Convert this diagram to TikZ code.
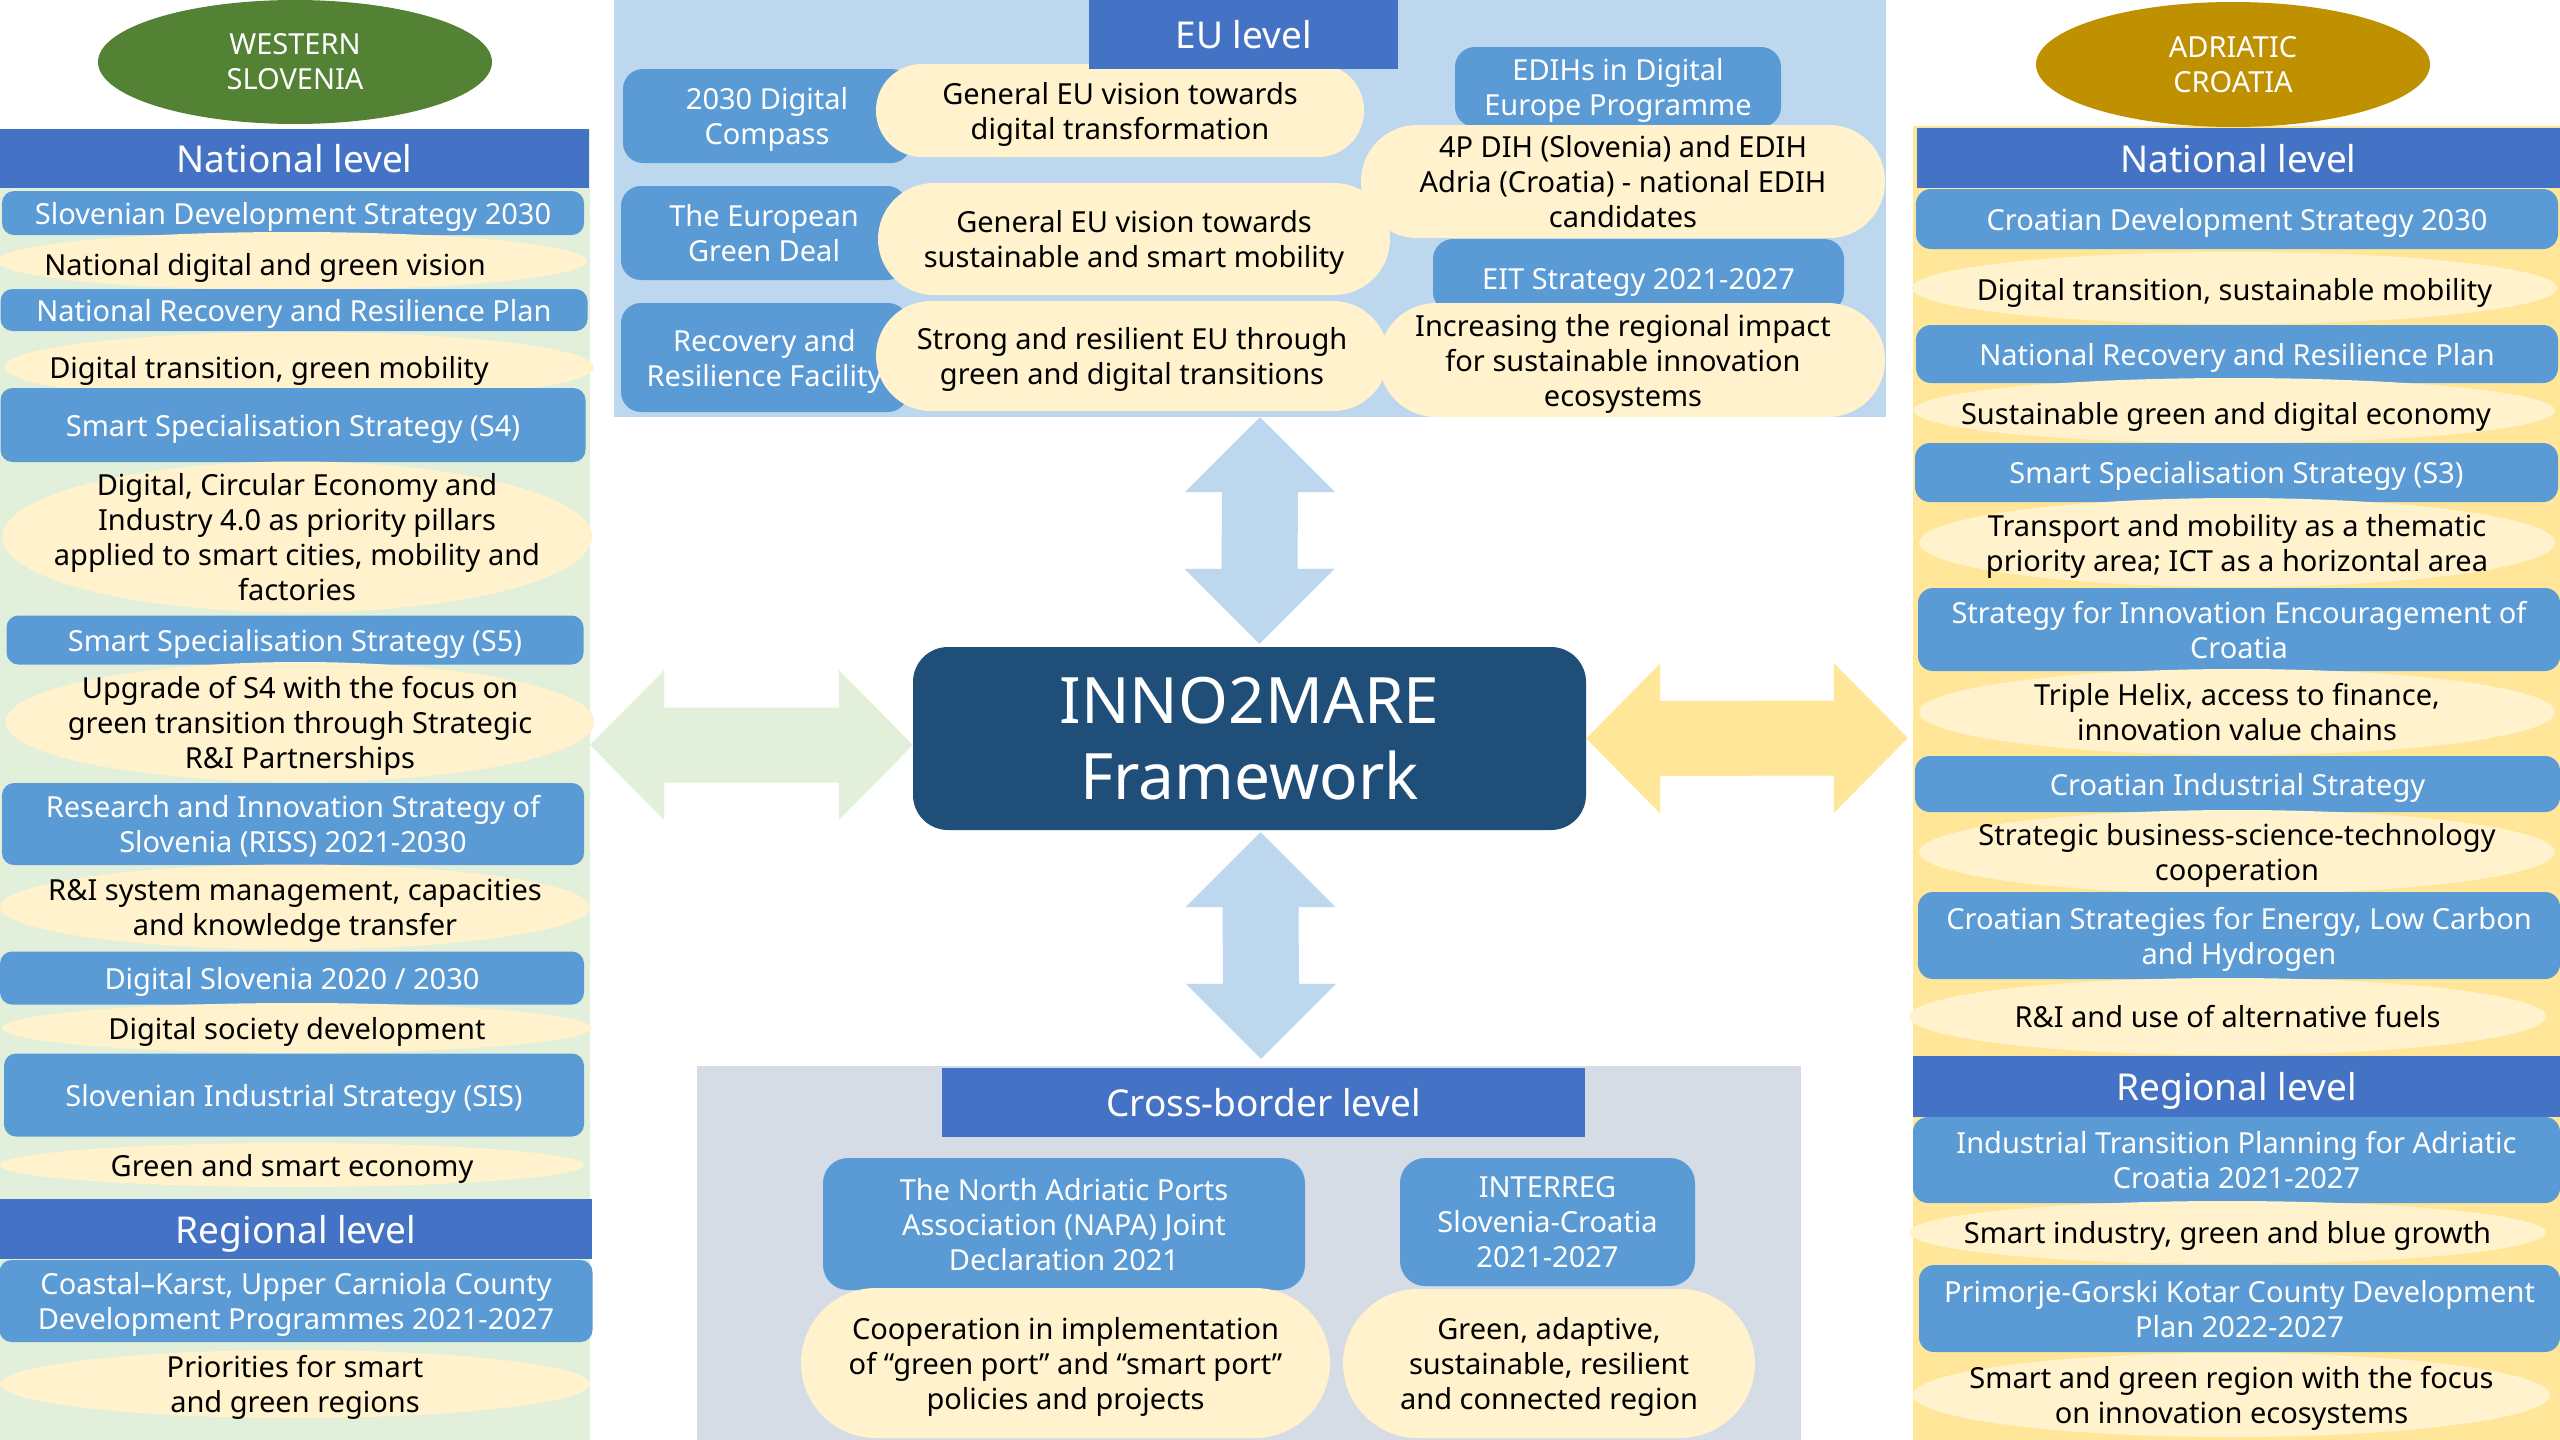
\documentclass[tikz,border=0pt]{standalone}
\usepackage{fontspec}
\setmainfont{Noto Sans}
\usetikzlibrary{shapes.geometric,calc}
\definecolor{hdrblue}{HTML}{4472C4}
\definecolor{boxblue}{HTML}{5B9BD5}
\definecolor{cream}{HTML}{FFF2CC}
\definecolor{greenbg}{HTML}{E2EFDA}
\definecolor{yellowbg}{HTML}{FFE699}
\definecolor{eubg}{HTML}{BDD7EE}
\definecolor{cbbg}{HTML}{D6DCE5}
\definecolor{ctrblue}{HTML}{1F4E79}
\definecolor{westgreen}{HTML}{548235}
\definecolor{adrgold}{HTML}{BF9000}
\newcommand{\myfbody}{\fontsize{29}{35}\selectfont}
\newcommand{\myfhdr}{\fontsize{37}{44}\selectfont}
\newcommand{\myfbig}{\fontsize{64}{76}\selectfont}
\newcommand{\myvarrow}[3]{\fill[#1] (#2) -- ($(#2)+(75,75)$) -- ($(#2)+(38,75)$) -- ($(#3)+(38,-75)$) -- ($(#3)+(75,-75)$) -- (#3) -- ($(#3)+(-75,-75)$) -- ($(#3)+(-38,-75)$) -- ($(#2)+(-38,75)$) -- ($(#2)+(-75,75)$) -- cycle;}
\newcommand{\myharrow}[3]{\fill[#1] (#2) -- ($(#2)+(74,-75)$) -- ($(#2)+(74,-37.5)$) -- ($(#3)+(-74,-37.5)$) -- ($(#3)+(-74,-75)$) -- (#3) -- ($(#3)+(-74,75)$) -- ($(#3)+(-74,37.5)$) -- ($(#2)+(74,37.5)$) -- ($(#2)+(74,75)$) -- cycle;}
\tikzset{
  panel/.style={rectangle, inner sep=0pt, fill=#1},
  hdr/.style={rectangle, fill=hdrblue, text=white, font=\myfhdr, inner sep=0pt, align=center, text depth=0pt},
  bbox/.style={rectangle, rounded corners=#1, fill=boxblue, text=white, font=\myfbody, align=center, inner sep=0pt, text depth=0pt},
  bbox/.default=12pt,
  creamE/.style={ellipse, fill=cream, inner sep=0pt},
  creamR/.style={rectangle, rounded corners=#1, fill=cream, text=black, font=\myfbody, align=center, inner sep=0pt, text depth=0pt},
  ctext/.style={text=black, font=\myfbody, align=center, inner sep=0pt, text depth=0pt},
  region/.style={ellipse, fill=#1, text=white, font=\myfbody, align=center, inner sep=0pt},
}
\begin{document}
\begin{tikzpicture}[x=1pt,y=-1pt]
\fill[white] (0,0) rectangle (2560,1440);
\useasboundingbox (0,0) rectangle (2560,1440);

% panels
\node[panel=greenbg, minimum width=590pt, minimum height=1311pt] (greenpanel) at (295,784.5) {};
\node[panel=yellowbg, minimum width=647pt, minimum height=1314pt] (yellowpanel) at (2236.5,783) {};
\node[panel=eubg, minimum width=1272pt, minimum height=417pt] (eupanel) at (1250,208.5) {};
\node[panel=cbbg, minimum width=1104pt, minimum height=374pt] (cbpanel) at (1249,1253) {};

% centre
\node[rectangle, rounded corners=35pt, fill=ctrblue, text=white, font=\myfbig, align=center, inner sep=0pt, minimum width=673pt, minimum height=183pt] (ctr) at (1249.5,738.5) {INNO2MARE\\Framework};

% arrows
\coordinate (aTT) at ([xshift=10pt]eupanel.south);
\coordinate (aTB) at ([xshift=10pt,yshift=3pt]ctr.north);
\coordinate (aBT) at ([xshift=11pt,yshift=-2pt]ctr.south);
\coordinate (aBB) at ([xshift=12pt,yshift=7pt]cbpanel.north);
\coordinate (aLL) at ([yshift=39.5pt]greenpanel.east);
\coordinate (aLR) at ([yshift=-6.5pt]ctr.west);
\coordinate (aRL) at (ctr.east);
\coordinate (aRR) at ([xshift=-5pt,yshift=45pt]yellowpanel.west);
\myvarrow{eubg}{aTT}{aTB}
\myvarrow{eubg}{aBT}{aBB}
\myharrow{greenbg}{aLL}{aLR}
\myharrow{yellowbg}{aRL}{aRR}

% ---------- left column ----------
\node[hdr, minimum width=589pt, minimum height=59pt] (natL) at (294.5,158.5) {National level};
\node[bbox, minimum width=582pt, minimum height=44pt] (sds) at (293,213) {Slovenian Development Strategy 2030};
\node[creamE, minimum width=590pt, minimum height=58pt] (e1) at (292,261) {};
\node[ctext] (e1t) at ($(e1)+(-27,3)$) {National digital and green vision};
\node[bbox, minimum width=587pt, minimum height=42pt] (nrrpL) at (294,310) {National Recovery and Resilience Plan};
\node[creamE, minimum width=590pt, minimum height=70pt] (e2) at (299,367) {};
\node[ctext] (e2t) at ($(e2)+(-30,0)$) {Digital transition, green mobility};
\node[bbox, minimum width=585pt, minimum height=74pt] (s4) at (293,425) {Smart Specialisation Strategy (S4)};
\node[creamE, minimum width=590pt, minimum height=151pt] (e3) at (297,537) {};
\node[ctext] (e3t) at (e3) {Digital, Circular Economy and\\Industry 4.0 as priority pillars\\applied to smart cities, mobility and\\factories};
\node[bbox, minimum width=577pt, minimum height=49pt] (s5) at (295,640) {Smart Specialisation Strategy (S5)};
\node[creamE, minimum width=589pt, minimum height=120pt] (e4) at (300,722) {};
\node[ctext] (e4t) at (e4) {Upgrade of S4 with the focus on\\green transition through Strategic\\R\&I Partnerships};
\node[bbox, minimum width=582pt, minimum height=82pt] (riss) at (293,824) {Research and Innovation Strategy of\\Slovenia (RISS) 2021-2030};
\node[creamE, minimum width=590pt, minimum height=85pt] (e5) at (295,907) {};
\node[ctext] (e5t) at (e5) {R\&I system management, capacities\\and knowledge transfer};
\node[bbox, minimum width=584pt, minimum height=53pt] (ds) at (292,978) {Digital Slovenia 2020 / 2030};
\node[creamE, minimum width=590pt, minimum height=50pt] (e6) at (297,1028) {};
\node[ctext] (e6t) at (e6) {Digital society development};
\node[bbox, minimum width=580pt, minimum height=83pt] (sis) at (294,1095) {Slovenian Industrial Strategy (SIS)};
\node[creamE, minimum width=584pt, minimum height=44pt] (e7) at (292,1165) {};
\node[ctext] (e7t) at (e7) {Green and smart economy};
\node[hdr, minimum width=592pt, minimum height=60pt] (regL) at (296,1229) {Regional level};
\node[bbox, minimum width=593pt, minimum height=82pt] (ck) at (296,1301) {Coastal–Karst, Upper Carniola County\\Development Programmes 2021-2027};
\node[creamE, minimum width=590pt, minimum height=68pt] (e8) at (295,1384) {};
\node[ctext] (e8t) at (e8) {Priorities for smart\\and green regions};

% ---------- right column ----------
\node[hdr, minimum width=643pt, minimum height=60pt] (natR) at (2238.5,158) {National level};
\node[bbox=15pt, minimum width=642pt, minimum height=60pt] (cds) at (2237,219) {Croatian Development Strategy 2030};
\node[creamE, minimum width=645pt, minimum height=72pt] (r1) at (2234.5,288) {};
\node[ctext] (r1t) at ($(r1)+(0,1.5)$) {Digital transition, sustainable mobility};
\node[bbox=15pt, minimum width=642pt, minimum height=58pt] (nrrpR) at (2237,354) {National Recovery and Resilience Plan};
\node[creamE, minimum width=642pt, minimum height=65pt] (r2) at (2234,410.5) {};
\node[ctext] (r2t) at ($(r2)+(-8,2.5)$) {Sustainable green and digital economy};
\node[bbox=15pt, minimum width=643pt, minimum height=59pt] (s3) at (2236.5,472.5) {Smart Specialisation Strategy (S3)};
\node[creamE, minimum width=636pt, minimum height=89pt] (r3) at (2237,542.5) {};
\node[ctext] (r3t) at (r3) {Transport and mobility as a thematic\\priority area; ICT as a horizontal area};
\node[bbox=15pt, minimum width=642pt, minimum height=83pt] (sie) at (2239,629.5) {Strategy for Innovation Encouragement of\\Croatia};
\node[creamE, minimum width=636pt, minimum height=86pt] (r4) at (2237,712) {};
\node[ctext] (r4t) at (r4) {Triple Helix, access to finance,\\innovation value chains};
\node[bbox=15pt, minimum width=645pt, minimum height=56pt] (cis) at (2237.5,784) {Croatian Industrial Strategy};
\node[creamE, minimum width=636pt, minimum height=84pt] (r5) at (2237,852) {};
\node[ctext] (r5t) at (r5) {Strategic business-science-technology\\cooperation};
\node[bbox=15pt, minimum width=642pt, minimum height=87pt] (cse) at (2239,935.5) {Croatian Strategies for Energy, Low Carbon\\and Hydrogen};
\node[creamE, minimum width=637pt, minimum height=77pt] (r6) at (2227.5,1016.5) {};
\node[ctext] (r6t) at (r6) {R\&I and use of alternative fuels};
\node[hdr, minimum width=647pt, minimum height=61pt] (regR) at (2236.5,1086.5) {Regional level};
\node[bbox=15pt, minimum width=647pt, minimum height=86pt] (itp) at (2236.5,1160) {Industrial Transition Planning for Adriatic\\Croatia 2021-2027};
\node[creamE, minimum width=637pt, minimum height=63pt] (r7) at (2227.5,1232.5) {};
\node[ctext] (r7t) at (r7) {Smart industry, green and blue growth};
\node[bbox=15pt, minimum width=641pt, minimum height=87pt] (pgk) at (2239.5,1308.5) {Primorje-Gorski Kotar County Development\\Plan 2022-2027};
\node[creamE, minimum width=637pt, minimum height=84pt] (r8) at (2231.5,1395) {};
\node[ctext] (r8t) at (r8) {Smart and green region with the focus\\on innovation ecosystems};

% ---------- EU level ----------
\node[bbox=20pt, minimum width=288pt, minimum height=94pt] (dc) at (767,116) {2030 Digital\\Compass};
\node[bbox=20pt, minimum width=286pt, minimum height=94pt] (egd) at (764,233) {The European\\Green Deal};
\node[bbox=20pt, minimum width=287pt, minimum height=109pt] (rrf) at (764.5,357.5) {Recovery and\\Resilience Facility};
\node[bbox=20pt, minimum width=326pt, minimum height=80pt] (edih) at (1618,87) {EDIHs in Digital\\Europe Programme};
\node[bbox=20pt, minimum width=411pt, minimum height=73pt] (eit) at (1638.5,275.5) {};
\node[ctext, text=white] (eitt) at ($(eit)+(0,3)$) {EIT Strategy 2021-2027};
\node[creamR=46pt, minimum width=488pt, minimum height=93pt] (c1) at (1120,110.5) {General EU vision towards\\digital transformation};
\node[creamR=56pt, minimum width=512pt, minimum height=112pt] (c2) at (1134,239) {General EU vision towards\\sustainable and smart mobility};
\node[creamR=55pt, minimum width=512pt, minimum height=110pt] (c3) at (1132,356) {Strong and resilient EU through\\green and digital transitions};
\node[creamR=56pt, minimum width=524pt, minimum height=113pt] (c4) at (1623,181.5) {4P DIH (Slovenia) and EDIH\\Adria (Croatia) - national EDIH\\candidates};
\node[creamR=57pt, minimum width=506pt, minimum height=114pt] (c5) at (1632,360) {};
\node[ctext] (c5t) at ($(c5)+(-9,0)$) {Increasing the regional impact\\for sustainable innovation\\ecosystems};
\node[hdr, minimum width=309pt, minimum height=69pt] (euhdr) at (1243.5,34.5) {EU level};

% ---------- Cross-border level ----------
\node[hdr, minimum width=643pt, minimum height=69pt] (cbhdr) at (1263.5,1102.5) {Cross-border level};
\node[bbox=25pt, minimum width=482pt, minimum height=132pt] (napa) at (1064,1224) {The North Adriatic Ports\\Association (NAPA) Joint\\Declaration 2021};
\node[bbox=25pt, minimum width=295pt, minimum height=128pt] (interreg) at (1547.5,1222) {INTERREG\\Slovenia-Croatia\\2021-2027};
\node[creamR=75pt, minimum width=529pt, minimum height=150pt] (coop) at (1065.5,1363) {Cooperation in implementation\\of “green port” and “smart port”\\policies and projects};
\node[creamR=75pt, minimum width=412pt, minimum height=149pt] (gacr) at (1549,1363.5) {Green, adaptive,\\sustainable, resilient\\and connected region};

% ---------- regions ----------
\node[region=westgreen, minimum width=394pt, minimum height=124pt] (west) at (295,62) {};
\node[ctext, text=white] (westt) at (west) {WESTERN\\SLOVENIA};
\node[region=adrgold, minimum width=394pt, minimum height=125pt] (adr) at (2233,64.5) {};
\node[ctext, text=white] (adrt) at (adr) {ADRIATIC\\CROATIA};
\end{tikzpicture}
\end{document}
